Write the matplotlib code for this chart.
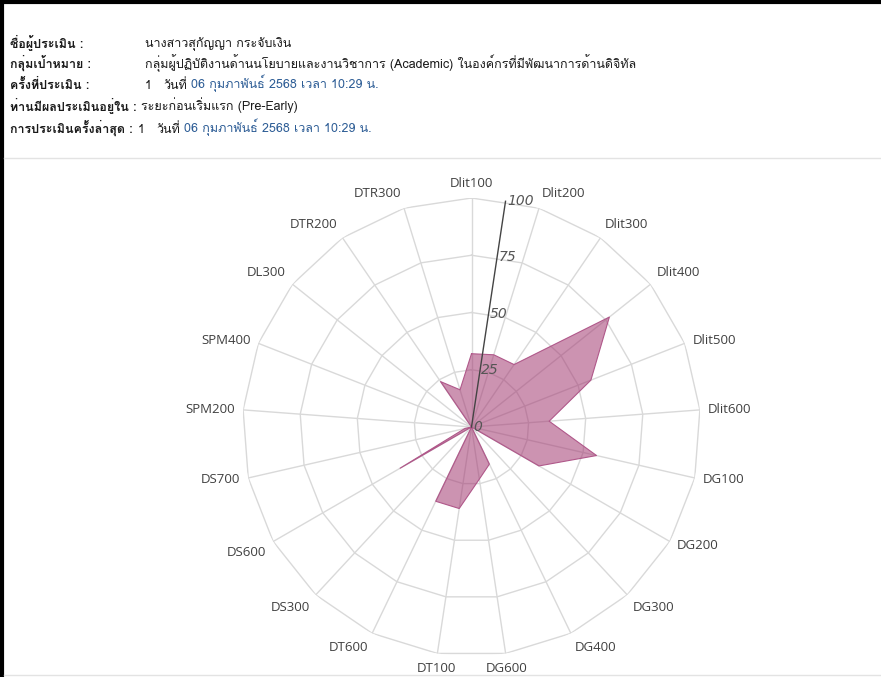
import numpy as np
import matplotlib
matplotlib.use('Agg')
import matplotlib.pyplot as plt
from matplotlib import font_manager
from matplotlib.ft2font import FT2Font
from matplotlib.lines import Line2D


# radar data
categories = ['Dlit100', 'Dlit200', 'Dlit300', 'Dlit400', 'Dlit500', 'Dlit600',
              'DG100', 'DG200', 'DG300', 'DG400', 'DG600', 'DT100', 'DT600',
              'DS300', 'DS600', 'DS700', 'SPM200', 'SPM400', 'DL300',
              'DTR200', 'DTR300']
scores = [32, 33, 33, 77, 56, 34, 56, 34, 0, 18, 23, 36, 36,
          0, 36, 3, 0, 0, 0, 24, 17]
radial_ticks = [0, 25, 50, 75, 100]

# header text
head_labels = ['ชื่อผู้ประเมิน :', 'กลุ่มเป้าหมาย :', 'ครั้งที่ประเมิน :',
               'ท่านมีผลประเมินอยู่ใน :', 'การประเมินครั้งล่าสุด :']
assessor = 'นางสาวสุกัญญา กระจับเงิน'
target_group = 'กลุ่มผู้ปฏิบัติงานด้านนโยบายและงานวิชาการ (Academic) ในองค์กรที่มีพัฒนาการด้านดิจิทัล'
round_no = '1'
date_word = 'วันที่'
date_text = '06 กุมภาพันธ์ 2568 เวลา 10:29 น.'
stage = 'ระยะก่อนเริ่มแรก (Pre-Early)'


def find_thai_font():
    # pick the first installed font that has thai glyphs
    for f in font_manager.fontManager.ttflist:
        try:
            if 0x0E01 in FT2Font(f.fname).get_charmap():
                return f.name
        except Exception:
            pass
    return 'DejaVu Sans'


thai = find_thai_font()
plt.rcParams['font.family'] = [thai, 'DejaVu Sans']

W, H = 881, 677
fig = plt.figure(figsize=(W / 100, H / 100), dpi=100)
fig.patch.set_facecolor('white')

# header drawn in a full-figure axes (pixel coords)
hx = fig.add_axes([0, 0, 1, 1])
hx.set_xlim(0, W)
hx.set_ylim(H, 0)
hx.axis('off')

fs = 9
black = '#1a1a1a'
blue = '#2c5c95'
rows_y = [47, 68, 89, 110, 133]   # baselines
lab = []
for y, t in zip(rows_y, head_labels):
    lab.append(hx.text(10, y, t, fontsize=fs, fontweight='bold', color=black, va='baseline'))

hx.text(145, rows_y[0], assessor, fontsize=fs, color=black, va='baseline')
hx.text(145, rows_y[1], target_group, fontsize=fs, color=black, va='baseline')


def date_row(x, y):
    t1 = hx.text(x, y, round_no, fontsize=fs, color=black, va='baseline')
    t2 = hx.annotate(date_word, xy=(1, 0), xycoords=t1, xytext=(8, 0),
                     textcoords='offset points', fontsize=fs, color=black, va='bottom')
    hx.annotate(date_text, xy=(1, 0), xycoords=t2, xytext=(3, 0),
                textcoords='offset points', fontsize=fs, color=blue, va='bottom')


date_row(145, rows_y[2])
hx.text(141, rows_y[3], stage, fontsize=fs, color=black, va='baseline')
date_row(138, rows_y[4])

# frame lines
hx.add_line(Line2D([1.5, 1.5], [0, H], color='black', lw=3))
hx.add_line(Line2D([0, W], [1.5, 1.5], color='black', lw=3))
hx.add_line(Line2D([4, W], [158, 158], color='#e3e3e3', lw=1))
hx.add_line(Line2D([4, W], [675, 675], color='#e3e3e3', lw=1))

# radar
cx, cy, R = 471.5, 427, 229
ax = fig.add_axes([(cx - R) / W, (H - cy - R) / H, 2 * R / W, 2 * R / H], projection='polar')
ax.set_theta_zero_location('N')
ax.set_theta_direction(-1)
ax.set_ylim(0, 100)
ax.spines['polar'].set_visible(False)
ax.patch.set_alpha(0)
ax.set_yticks([])
ax.grid(False)

n = len(categories)
angles = np.arange(n) * 2 * np.pi / n
ring = np.append(angles, angles[0])
grid_c = '#d9d9d9'
for r in radial_ticks[1:]:
    ax.plot(ring, [r] * len(ring), color=grid_c, lw=1, zorder=1)
for a in angles:
    ax.plot([a, a], [0, 100], color=grid_c, lw=1, zorder=1)

vals = np.append(scores, scores[0])
ax.fill(ring, vals, color='#a33a72', alpha=0.55, lw=0, zorder=2)
ax.plot(ring, vals, color='#b0588a', lw=0.8, zorder=3)

# radial axis
ra = np.pi / n
ax.plot([ra, ra], [0, 100], color='#444444', lw=1, zorder=4)
for v in radial_ticks:
    ax.annotate(str(v), xy=(ra, v), xytext=(1, 0), textcoords='offset points',
                ha='left', va='center', fontsize=10, color='#555555',
                family='DejaVu Sans', style='italic', zorder=5)

# category labels
ax.set_xticks([])
for a, name in zip(angles, categories):
    s, c = np.sin(a), np.cos(a)
    ha = 'center' if abs(s) < 0.15 else ('left' if s > 0 else 'right')
    va = 'center' if abs(c) < 0.5 else ('bottom' if c > 0 else 'top')
    ax.annotate(name, xy=(a, 100), xytext=(6 * s, 6 * c), textcoords='offset points',
                ha=ha, va=va, fontsize=9.5, color='#404040', family=['Open Sans', 'DejaVu Sans'])

fig.savefig('out.png', dpi=100, facecolor='white')
